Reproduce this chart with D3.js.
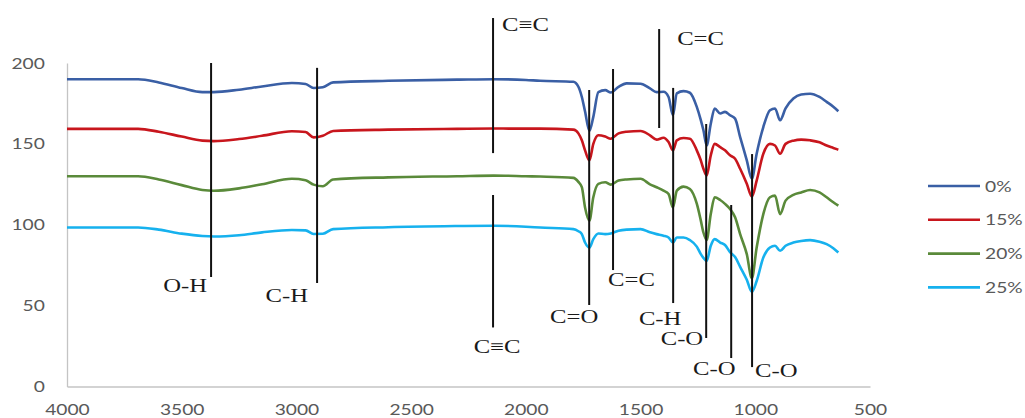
<!DOCTYPE html>
<html>
<head>
<meta charset="utf-8">
<script src="https://cdn.jsdelivr.net/npm/d3@7"></script>
<style>
  body { margin: 0; background: #fff; }
  #chart { width: 1025px; height: 418px; }
</style>
</head>
<body>
<div id="chart"></div>
<script>
// wavenumbers (cm-1), high -> low
const wavenumbers = [4000, 3690, 3600, 3500, 3410, 3360, 3250, 3150, 3020, 2960, 2925, 2885, 2840, 2600, 2300, 2140, 2000, 1938,
  1793, 1771, 1756, 1742, 1723, 1706, 1684, 1654, 1630, 1596, 1561, 1500, 1459, 1430, 1400, 1378, 1359, 1342, 1313, 1285,
  1255, 1238, 1226, 1212, 1194, 1177, 1153, 1132, 1110, 1088, 1066, 1037, 1015, 994, 965, 936, 914, 892, 868, 834, 800,
  761, 720, 689, 660, 638];

const s0 = [190, 190, 188, 184.5, 182, 182, 183.5, 185.5, 187.6, 187, 184.5, 185, 188, 189, 189.7, 190, 189.5, 189,
  188.4, 185.3, 179, 170, 158, 166.7, 182, 183.2, 181.8, 185.3, 187.4, 187.2, 184.3, 182, 182.2, 179, 167.7, 181.2, 182.6, 181.6,
  172.9, 165, 158.4, 149, 162.5, 171.9, 168.8, 169.8, 167.7, 165.6, 154.2, 139.8, 128.4, 143.9, 160.4, 170.8, 171.9, 164.6, 171.9, 178, 180.5,
  181, 179, 176, 173, 170.2];
const s15 = [159.3, 159.3, 157.5, 154.5, 152, 151.7, 153, 155, 157.8, 157.3, 154, 155, 158, 158.8, 159.3, 159.5, 159.4, 159.4,
  158.8, 156.5, 152.2, 146, 139.8, 150, 155.3, 154.5, 153.2, 156.5, 157.5, 158, 155.3, 152.6, 153.8, 151.1, 146, 152.2, 153.6, 153.2,
  146, 140, 134.6, 130.4, 142.9, 150, 148, 146, 142.9, 140.8, 134.6, 125.3, 117.4, 127.3, 143.9, 150, 149, 143.9, 150, 152, 152.6,
  152.2, 151, 149, 147.5, 146.4];
const s20 = [130, 130, 128, 124.5, 121.5, 121, 122.5, 125, 128.4, 127.5, 124.8, 123.8, 128, 129.3, 130, 130.4, 130, 129.8,
  129, 126.5, 123.2, 110.7, 102.5, 117, 125.3, 126.3, 124.8, 127.3, 128, 128.4, 125, 123.2, 121.1, 119, 110.7, 121.1, 123.6, 122.1,
  113, 103, 95.2, 90.5, 106.6, 117, 115.3, 112.9, 109.7, 104.6, 94.2, 81.8, 67, 85.9, 106.6, 117, 118, 106.6, 114.9, 118.5, 120,
  121.5, 120, 117, 113.9, 111.8];
const s25 = [98.3, 98.3, 97, 94.5, 93, 92.7, 93.5, 95.3, 96.8, 96.5, 94.3, 94.4, 97.3, 98.5, 99.2, 99.4, 98.8, 98.3,
  97.3, 96, 94.2, 89, 85.9, 91.1, 94.6, 94.2, 94.6, 96.3, 97, 97.3, 95.3, 94.2, 93.2, 92.1, 89, 92.1, 92.1, 90.5,
  86.5, 82, 79.5, 77.6, 87, 91.1, 89, 87.5, 83, 80, 74, 66, 58.5, 65.2, 79.7, 85.9, 87, 83.9, 87, 89, 90,
  90.5, 89.5, 88, 85.5, 82.8];

const seriesNames = ["0%", "15%", "20%", "25%"];
const seriesColors = ["#3A5FA5", "#C8161D", "#5A8A3A", "#16B1EE"];
const xTicks = [4000, 3500, 3000, 2500, 2000, 1500, 1000, 500];
const yTicks = [0, 50, 100, 150, 200];

// band markers: wavenumber, line top/bottom (y units), label
const bandLabels = ["O-H", "C-H", "C\u2261C", "C\u2261C", "C=O", "C=C", "C=C", "C-H", "C-O", "C-O", "C-O"];
const bandWave = [3372, 2910, 2143, 2143, 1724, 1620, 1419, 1358, 1214, 1105, 1014];
const bandTop = [200, 197, 227.8, 118.4, 183.3, 196.3, 221, 184.6, 162.3, 112.2, 143.7];
const bandBottom = [67.7, 64, 144.3, 36.5, 50.4, 72, 159.8, 51.6, 30, 17.6, 12];
// label placement relative to the line end (px)
const labelPos = [
  {end: "bottom", dx: -4, dy: 15, anchor: "end"},
  {end: "bottom", dx: -9, dy: 19, anchor: "end"},
  {end: "top", dx: 9, dy: 13, anchor: "start"},
  {end: "bottom", dx: 4, dy: 26, anchor: "middle"},
  {end: "bottom", dx: -15, dy: 18, anchor: "middle"},
  {end: "bottom", dx: -5, dy: 16, anchor: "start"},
  {end: "top", dx: 18, dy: 16, anchor: "start"},
  {end: "bottom", dx: -13, dy: 22, anchor: "middle"},
  {end: "bottom", dx: -3, dy: 7, anchor: "end"},
  {end: "bottom", dx: -17, dy: 17, anchor: "middle"},
  {end: "bottom", dx: 3, dy: 10, anchor: "start"}
];

function drawChart() {
  const width = 1025, height = 418;
  const svg = d3.select("#chart").append("svg")
    .attr("width", width)
    .attr("height", height);

  const x = d3.scaleLinear().domain([4000, 500]).range([67, 870]);
  const y = d3.scaleLinear().domain([0, 200]).range([386.5, 63]);

  const tickFont = "Lato, 'Open Sans', sans-serif";
  const stretch = 1.2;

  // axes
  const xAxis = svg.append("g")
    .attr("transform", `translate(0,${y(0)})`)
    .call(d3.axisBottom(x).tickValues(xTicks).tickSize(0).tickPadding(17).tickFormat(d3.format("d")));
  const yAxis = svg.append("g")
    .attr("transform", `translate(${x(4000)},0)`)
    .call(d3.axisLeft(y).tickValues(yTicks).tickSize(0).tickPadding(18.5));

  [xAxis, yAxis].forEach(a => {
    a.select(".domain").attr("stroke", "#c4c4c4").attr("stroke-width", 1.3);
    a.selectAll("text")
      .attr("fill", "#595959")
      .style("font-family", tickFont)
      .style("font-size", "16px")
      .attr("transform", `scale(${stretch},1)`);
  });

  // spectra
  const allSeries = [s0, s15, s20, s25];
  const line = d3.line()
    .x((d, i) => x(wavenumbers[i]))
    .y(d => y(d))
    .curve(d3.curveMonotoneX);

  svg.selectAll(".spectrum")
    .data(allSeries)
    .enter()
    .append("path")
    .attr("class", "spectrum")
    .attr("d", d => line(d))
    .attr("fill", "none")
    .attr("stroke", (d, i) => seriesColors[i])
    .attr("stroke-width", 2.6)
    .attr("stroke-linejoin", "round");

  // band markers
  const bands = svg.append("g");
  bandLabels.forEach((lab, i) => {
    const bx = x(bandWave[i]);
    const yTop = y(bandTop[i]), yBot = y(bandBottom[i]);
    bands.append("line")
      .attr("x1", bx).attr("x2", bx)
      .attr("y1", yTop).attr("y2", yBot)
      .attr("stroke", "#111")
      .attr("stroke-width", 2);
    const p = labelPos[i];
    const ly = (p.end === "top" ? yTop : yBot) + p.dy;
    bands.append("g")
      .attr("transform", `translate(${bx + p.dx},${ly})`)
      .append("text")
      .attr("transform", "scale(1.3,1)")
      .attr("text-anchor", p.anchor)
      .style("font-family", "'Liberation Serif', 'Times New Roman', serif")
      .style("font-size", "19px")
      .attr("fill", "#1a1a1a")
      .text(lab);
  });

  // legend
  const legend = svg.selectAll(".legend")
    .data(seriesNames)
    .enter()
    .append("g")
    .attr("class", "legend")
    .attr("transform", (d, i) => `translate(928, ${186 + i * 33.8})`);

  legend.append("line")
    .attr("x1", 0).attr("x2", 52)
    .attr("y1", 0).attr("y2", 0)
    .attr("stroke", (d, i) => seriesColors[i])
    .attr("stroke-width", 2.6);

  legend.append("g")
    .attr("transform", "translate(57,0)")
    .append("text")
    .attr("transform", `scale(${stretch},1)`)
    .attr("dy", "0.35em")
    .attr("fill", "#595959")
    .style("font-family", tickFont)
    .style("font-size", "16px")
    .text(d => d);
}

drawChart();
</script>
</body>
</html>
